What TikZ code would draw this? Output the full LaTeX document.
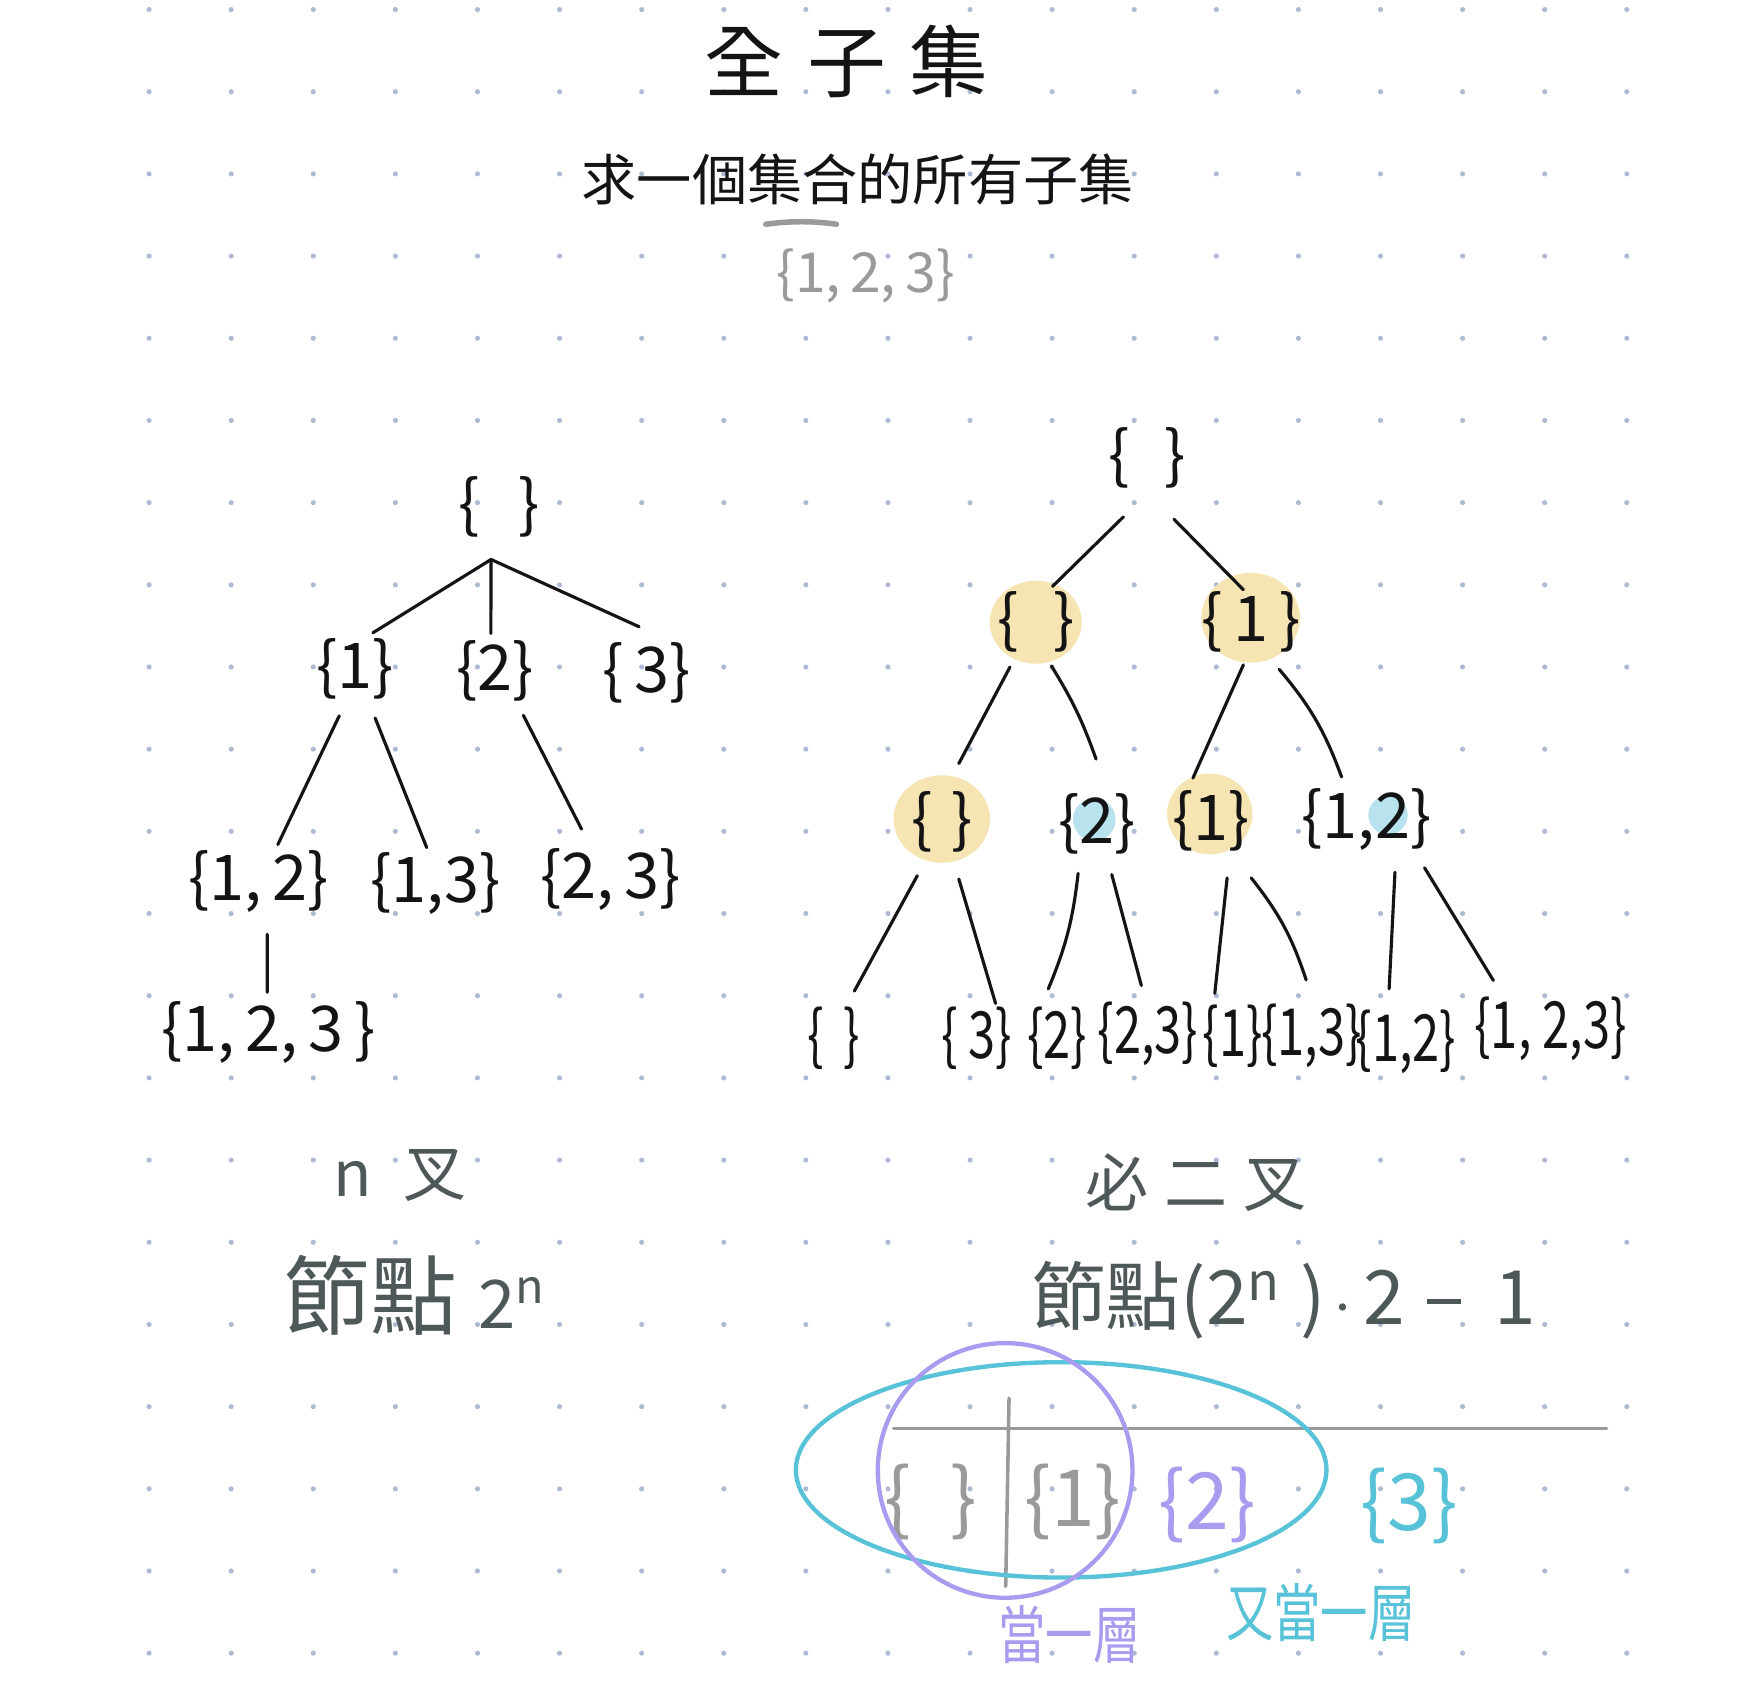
\documentclass[tikz,border=0pt]{standalone}
\usepackage{fontspec}
\usetikzlibrary{calc}
\setmainfont{Noto Sans CJK TC}
\newfontfamily\narrowhand{Noto Sans CJK TC}[FakeStretch=0.75]
\definecolor{ink}{HTML}{141414}
\definecolor{slate}{HTML}{4E5858}
\definecolor{graytext}{HTML}{9A9A9A}
\definecolor{lavender}{HTML}{A89CF0}
\definecolor{cyanc}{HTML}{58C2D8}
\definecolor{yblob}{HTML}{F6E4B2}
\definecolor{bblob}{HTML}{B8E2EE}
\definecolor{dotc}{HTML}{AEB9D4}
\newcommand{\emptyb}[1]{\{\hspace{#1}\}}
\newcommand{\shortdash}{\rule[0.28em]{0.45em}{0.07em}}
\begin{document}
\begin{tikzpicture}[x=0.01cm,y=-0.01cm,
  setn/.style={font=\fontsize{16}{18}\selectfont, text=ink, inner sep=0pt},
  leafn/.style={font=\narrowhand\fontsize{16.5}{18}\selectfont, text=ink, inner sep=0pt},
  edge/.style={draw=ink, line width=0.8pt, line cap=round},
  lbl/.style={text=slate, inner sep=0pt},
  tblline/.style={draw=graytext, line width=0.9pt, line cap=round}]
\fill[white] (0,0) rectangle (1568,1520);
\useasboundingbox (0,0) rectangle (1568,1520);
% dot grid
\foreach \i in {0,...,18} {
  \foreach \j in {0,...,20} {
    \fill[dotc] ({133+73.22*\i},{8.5+73.3*\j}) circle (0.65pt);
  }
}
% title
\node[text=ink, inner sep=0pt] (title) at (755,55) {\fontsize{20}{24}\selectfont 全\hspace{0.3em}子\hspace{0.3em}集};
\node[text=ink, inner sep=0pt] (sub) at (765,160) {\fontsize{14}{16}\selectfont 求一個集合的所有子集};
\draw[graytext, line width=1.4pt, line cap=round] (683,200) .. controls (705,197) and (725,197) .. (746,200);
\node[text=graytext, inner sep=0pt] (given) at (772,246) {\fontsize{14}{16}\selectfont \{1,\,2,\,3\}};

% left tree
\node[setn] (l0) at (445,452) {\emptyb{0.62em}};
\coordinate (J) at (438,499);
\node[setn] (l1a) at (316.6,596.4) {\{1\}};
\node[setn] (l1b) at (441.8,598) {\{2\}};
\node[setn] (l1c) at (577,600) {\{\,3\}};
\node[setn] (l2a) at (230.8,786.3) {\{1,\,2\}};
\node[setn] (l2b) at (388.6,788) {\{1,3\}};
\node[setn] (l2c) at (544.7,784.5) {\{2,\,3\}};
\node[setn] (l3) at (239.4,921) {\{1,\,2,\,3\,\}};
\draw[edge] (J) -- ($(l1a)+(16,-32)$);
\draw[edge] (J) -- ($(l1b)+(-4,-33)$);
\draw[edge] (J) -- ($(l1c)+(-7,-41)$);
\draw[edge] ($(l1a)+(-14,42)$) -- ($(l2a)+(17,-33)$);
\draw[edge] ($(l1a)+(18,44)$) -- ($(l2b)+(-8,-32)$);
\draw[edge] ($(l1b)+(25,40)$) -- ($(l2c)+(-26,-45)$);
\draw[edge] ($(l2a)+(7.5,47)$) -- ($(l3)+(-1,-36)$);

% right tree blobs
\fill[yblob] (923.8,555) ellipse [x radius=0.41cm, y radius=0.37cm];
\fill[yblob] (1115.5,551) ellipse [x radius=0.44cm, y radius=0.40cm];
\fill[yblob] (840,730.5) ellipse [x radius=0.43cm, y radius=0.39cm];
\fill[yblob] (1079,726) ellipse [x radius=0.38cm, y radius=0.36cm];
\fill[bblob] (976,731) circle [radius=0.19cm];
\fill[bblob] (1238,727) circle [radius=0.175cm];
% right tree nodes
\node[setn] (r0) at (1023,408) {\emptyb{0.55em}};
\node[setn] (r1a) at (923.8,555) {\emptyb{0.55em}};
\node[setn] (r1b) at (1116,555) {\{\,1\,\}};
\node[setn] (r2a) at (840.2,733) {\emptyb{0.3em}};
\node[setn] (r2b) at (978.6,735) {\{2\}};
\node[setn] (r2c) at (1080,732) {\{1\}};
\node[setn] (r2d) at (1218.6,731) {\{1,2\}};
\node[leafn] (la) at (744,926) {\emptyb{0.3em}};
\node[leafn] (lb) at (871,926) {\{\,3\}};
\node[leafn] (lc) at (943,926) {\{2\}};
\node[leafn] (ld) at (1024,922) {\{2,3\}};
\node[leafn] (le) at (1099.5,924) {\{1\}};
\node[leafn] (lf) at (1170,924) {\{1,3\}};
\node[leafn] (lg) at (1254,929) {\{1,2\}};
\node[leafn] (lh) at (1383,918) {\{1,\,2,3\}};
\draw[edge] ($(r0)+(-21,53)$) -- ($(r1a)+(15,-32)$);
\draw[edge] ($(r0)+(24,55)$) -- ($(r1b)+(-7,-29)$);
\draw[edge] ($(r1a)+(-23,40)$) -- ($(r2a)+(15,-52)$);
\draw[edge] ($(r1a)+(14,39)$) to[bend left=6] ($(r2b)+(-1,-58)$);
\draw[edge] ($(r1b)+(-7,38)$) -- ($(r2c)+(-16,-38)$);
\draw[edge] ($(r1b)+(25,42)$) to[bend left=10] ($(r2d)+(-22,-38)$);
\draw[edge] ($(r2a)+(-22,48)$) -- ($(la)+(18,-42)$);
\draw[edge] ($(r2a)+(15,51)$) -- ($(lb)+(17,-31)$);
\draw[edge] ($(r2b)+(-17,44)$) to[bend left=8] ($(lc)+(-8,-44)$);
\draw[edge] ($(r2b)+(13,45)$) -- ($(ld)+(-6,-43)$);
\draw[edge] ($(r2c)+(14.5,51)$) -- ($(le)+(-16,-38)$);
\draw[edge] ($(r2c)+(36,51)$) to[bend left=10] ($(lf)+(-5,-50)$);
\draw[edge] ($(r2d)+(25.6,47)$) -- ($(lg)+(-15,-47)$);
\draw[edge] ($(r2d)+(52,43)$) -- ($(lh)+(-51,-43.5)$);

% labels
\node[lbl] (nary) at (357,1048) {\fontsize{16}{19}\selectfont n\hspace{0.5em}叉};
\node[lbl] (count1) at (370,1155) {{\fontsize{22}{24}\selectfont 節點}\hspace{0.55em}{\fontsize{17}{20}\selectfont 2\textsuperscript{n}}};
\node[lbl] (binary) at (1067,1055) {\fontsize{16}{19}\selectfont 必\hspace{0.25em}二\hspace{0.25em}叉};
\node[lbl] (count2) at (1145,1160) {\fontsize{19}{22}\selectfont 節點(2\textsuperscript{n}\hspace{0.25em})\hspace{0.1em}$\cdot$\hspace{0.15em}2\hspace{0.3em}\shortdash\hspace{0.45em}1};

% bottom table
\draw[tblline] (797,1274) -- (1433,1274);
\draw[tblline] (900,1247) -- (897,1415);
\node[text=graytext, inner sep=0pt, font=\fontsize{20}{22}\selectfont] (t0) at (830,1340) {\emptyb{0.5em}};
\node[text=graytext, inner sep=0pt, font=\fontsize{20}{22}\selectfont] (t1) at (957,1340) {\{1\}};
\node[text=lavender, inner sep=0pt, font=\fontsize{20}{22}\selectfont] (t2) at (1077,1342) {\{2\}};
\node[text=cyanc, inner sep=0pt, font=\fontsize{20}{22}\selectfont] (t3) at (1257,1343) {\{3\}};
\draw[cyanc, line width=1.1pt] (946.5,1311) ellipse [x radius=2.365cm, y radius=0.96cm];
\draw[lavender, line width=1.1pt] (896.5,1311.5) circle [radius=1.135cm];
\node[text=lavender, inner sep=0pt, font=\narrowhand\fontsize{16}{18}\selectfont] (lay1) at (954,1458) {當一層};
\node[text=cyanc, inner sep=0pt, font=\narrowhand\fontsize{16}{18}\selectfont] (lay2) at (1178,1438) {又當一層};
\end{tikzpicture}
\end{document}
